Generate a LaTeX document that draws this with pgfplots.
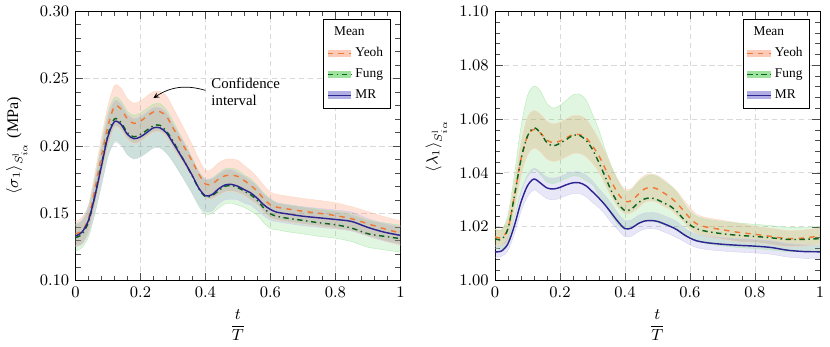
\documentclass[border=0pt]{standalone}
\usepackage{fontspec}
\setmainfont{Liberation Serif}
\usepackage{pgfplots}
\usepackage{pgfplotstable}
\pgfplotsset{compat=1.18}
\usepgfplotslibrary{fillbetween}

\definecolor{yeoh}{RGB}{240,120,50}
\definecolor{fung}{RGB}{10,100,30}
\definecolor{mr}{RGB}{45,35,145}
\definecolor{yeohfill}{RGB}{250,150,110}
\definecolor{fungfill}{RGB}{60,200,60}
\definecolor{mrfill}{RGB}{100,95,200}

\pgfplotsset{
  bandleg/.style={legend image code/.code={
      \fill[draw=none, #1, fill opacity=0.5] (0cm,-0.075cm) rectangle (0.46cm,0.075cm);
      \draw[##1] (0cm,0cm) -- (0.46cm,0cm);}},
  panel/.style={
    width=6.39cm, height=5.30cm, scale only axis,
    xmin=0, xmax=1,
    xtick={0,0.2,0.4,0.6,0.8,1},
    minor tick num=4,
    grid=major,
    major grid style={dash pattern=on 3pt off 2pt, gray!30},
    tick style={black!70},
    tick label style={font=\small},
    label style={font=\small},
    xlabel={$\displaystyle\frac{t}{T}$},
    yticklabel style={/pgf/number format/fixed, /pgf/number format/fixed zerofill, /pgf/number format/precision=2},
    legend style={font=\fontsize{7.5}{8.5}\selectfont, at={(0.97,0.97)}, anchor=north east,
      draw=black, cells={anchor=west}, row sep=1.2pt, inner sep=2pt},
  },
}

% columns: t, mean, lower, upper
\pgfplotstableread{
x m lo hi
0 0.1348 0.1258 0.1438
0.02 0.1370 0.1270 0.1470
0.04 0.1460 0.1360 0.1560
0.06 0.1680 0.1560 0.1800
0.08 0.1925 0.1785 0.2065
0.10 0.2146 0.1996 0.2296
0.12 0.2293 0.2138 0.2448
0.14 0.2274 0.2119 0.2429
0.16 0.2200 0.2050 0.2350
0.18 0.2166 0.2016 0.2316
0.20 0.2183 0.2033 0.2333
0.22 0.2220 0.2070 0.2370
0.24 0.2252 0.2102 0.2402
0.26 0.2254 0.2104 0.2404
0.28 0.2220 0.2070 0.2370
0.30 0.2134 0.1984 0.2284
0.32 0.2053 0.1913 0.2193
0.34 0.1970 0.1840 0.2100
0.36 0.1883 0.1763 0.2003
0.38 0.1790 0.1680 0.1900
0.40 0.1717 0.1617 0.1817
0.42 0.1717 0.1607 0.1827
0.44 0.1753 0.1633 0.1873
0.46 0.1778 0.1658 0.1898
0.48 0.1783 0.1663 0.1903
0.50 0.1773 0.1653 0.1893
0.52 0.1742 0.1632 0.1852
0.54 0.1705 0.1595 0.1815
0.56 0.1663 0.1563 0.1763
0.58 0.1606 0.1506 0.1706
0.60 0.1562 0.1467 0.1657
0.62 0.1545 0.1450 0.1640
0.65 0.1533 0.1438 0.1628
0.70 0.1515 0.1420 0.1610
0.75 0.1500 0.1405 0.1595
0.80 0.1483 0.1388 0.1578
0.85 0.1459 0.1369 0.1549
0.90 0.1422 0.1332 0.1512
0.95 0.1385 0.1295 0.1475
1.00 0.1353 0.1263 0.1443
}\yeohS

\pgfplotstableread{
x m lo hi
0 0.1319 0.1219 0.1419
0.02 0.1345 0.1245 0.1445
0.04 0.1434 0.1324 0.1544
0.06 0.1630 0.1500 0.1760
0.08 0.1864 0.1714 0.2014
0.10 0.2085 0.1925 0.2245
0.12 0.2200 0.2040 0.2360
0.14 0.2175 0.2015 0.2335
0.16 0.2097 0.1937 0.2257
0.18 0.2067 0.1907 0.2227
0.20 0.2085 0.1925 0.2245
0.22 0.2117 0.1957 0.2277
0.24 0.2150 0.1990 0.2310
0.26 0.2153 0.1993 0.2313
0.28 0.2109 0.1949 0.2269
0.30 0.2036 0.1886 0.2186
0.32 0.1950 0.1810 0.2090
0.34 0.1864 0.1724 0.2004
0.36 0.1773 0.1643 0.1903
0.38 0.1680 0.1550 0.1810
0.40 0.1623 0.1493 0.1753
0.42 0.1630 0.1500 0.1760
0.44 0.1667 0.1537 0.1797
0.46 0.1700 0.1570 0.1830
0.48 0.1705 0.1575 0.1835
0.50 0.1690 0.1560 0.1820
0.52 0.1663 0.1543 0.1783
0.54 0.1636 0.1516 0.1756
0.56 0.1594 0.1484 0.1704
0.58 0.1538 0.1428 0.1648
0.60 0.1496 0.1386 0.1606
0.62 0.1478 0.1378 0.1578
0.65 0.1464 0.1364 0.1564
0.70 0.1447 0.1347 0.1547
0.75 0.1429 0.1329 0.1529
0.80 0.1415 0.1315 0.1515
0.85 0.1390 0.1290 0.1490
0.90 0.1348 0.1248 0.1448
0.95 0.1329 0.1229 0.1429
1.00 0.1312 0.1212 0.1412
}\fungS

\pgfplotstableread{
x m lo hi
0 0.1331 0.1251 0.1411
0.02 0.1360 0.1270 0.1450
0.04 0.1447 0.1347 0.1547
0.06 0.1630 0.1510 0.1750
0.08 0.1850 0.1710 0.1990
0.10 0.2070 0.1920 0.2220
0.12 0.2180 0.2025 0.2335
0.14 0.2160 0.2005 0.2315
0.16 0.2085 0.1935 0.2235
0.18 0.2053 0.1903 0.2203
0.20 0.2067 0.1917 0.2217
0.22 0.2100 0.1950 0.2250
0.24 0.2134 0.1984 0.2284
0.26 0.2134 0.1984 0.2284
0.28 0.2097 0.1947 0.2247
0.30 0.2023 0.1883 0.2163
0.32 0.1945 0.1805 0.2085
0.34 0.1864 0.1734 0.1994
0.36 0.1778 0.1648 0.1908
0.38 0.1685 0.1565 0.1805
0.40 0.1630 0.1510 0.1750
0.42 0.1638 0.1518 0.1758
0.44 0.1680 0.1570 0.1790
0.46 0.1710 0.1600 0.1820
0.48 0.1714 0.1604 0.1824
0.50 0.1700 0.1600 0.1800
0.52 0.1675 0.1575 0.1775
0.54 0.1650 0.1560 0.1740
0.56 0.1610 0.1520 0.1700
0.58 0.1562 0.1482 0.1642
0.60 0.1528 0.1448 0.1608
0.62 0.1508 0.1438 0.1578
0.65 0.1496 0.1426 0.1566
0.70 0.1478 0.1408 0.1548
0.75 0.1466 0.1396 0.1536
0.80 0.1454 0.1384 0.1524
0.85 0.1439 0.1369 0.1509
0.90 0.1395 0.1330 0.1460
0.95 0.1360 0.1295 0.1425
1.00 0.1336 0.1271 0.1401
}\mrS

\pgfplotstableread{
x m lo hi
0 1.0162 1.0132 1.0192
0.02 1.0160 1.0130 1.0190
0.04 1.0193 1.0153 1.0233
0.06 1.0315 1.0265 1.0365
0.08 1.0450 1.0390 1.0510
0.10 1.0536 1.0466 1.0606
0.12 1.0561 1.0491 1.0631
0.14 1.0548 1.0478 1.0618
0.16 1.0521 1.0451 1.0591
0.18 1.0512 1.0442 1.0582
0.20 1.0518 1.0448 1.0588
0.22 1.0530 1.0460 1.0600
0.24 1.0542 1.0472 1.0612
0.26 1.0542 1.0472 1.0612
0.28 1.0530 1.0460 1.0600
0.30 1.0500 1.0435 1.0565
0.32 1.0463 1.0403 1.0523
0.34 1.0414 1.0354 1.0474
0.36 1.0364 1.0309 1.0419
0.38 1.0321 1.0271 1.0371
0.40 1.0294 1.0249 1.0339
0.42 1.0297 1.0252 1.0342
0.44 1.0319 1.0269 1.0369
0.46 1.0340 1.0290 1.0390
0.48 1.0346 1.0296 1.0396
0.50 1.0340 1.0290 1.0390
0.52 1.0325 1.0275 1.0375
0.54 1.0309 1.0264 1.0354
0.56 1.0287 1.0242 1.0332
0.58 1.0260 1.0220 1.0300
0.60 1.0232 1.0192 1.0272
0.62 1.0211 1.0176 1.0246
0.65 1.0199 1.0164 1.0234
0.70 1.0189 1.0154 1.0224
0.75 1.0179 1.0144 1.0214
0.80 1.0172 1.0142 1.0202
0.85 1.0164 1.0134 1.0194
0.90 1.0156 1.0126 1.0186
0.95 1.0158 1.0128 1.0188
1.00 1.0166 1.0136 1.0196
}\yeohL

\pgfplotstableread{
x m lo hi
0 1.0156 1.0121 1.0191
0.02 1.0153 1.0118 1.0188
0.04 1.0193 1.0143 1.0243
0.06 1.0315 1.0235 1.0395
0.08 1.0450 1.0330 1.0570
0.10 1.0536 1.0386 1.0686
0.12 1.0567 1.0412 1.0722
0.14 1.0548 1.0393 1.0703
0.16 1.0512 1.0367 1.0657
0.18 1.0500 1.0360 1.0640
0.20 1.0510 1.0370 1.0650
0.22 1.0524 1.0379 1.0669
0.24 1.0539 1.0389 1.0689
0.26 1.0539 1.0386 1.0692
0.28 1.0521 1.0371 1.0671
0.30 1.0487 1.0357 1.0617
0.32 1.0438 1.0318 1.0558
0.34 1.0383 1.0283 1.0483
0.36 1.0328 1.0238 1.0418
0.38 1.0285 1.0205 1.0365
0.40 1.0260 1.0190 1.0330
0.42 1.0266 1.0196 1.0336
0.44 1.0288 1.0213 1.0363
0.46 1.0303 1.0223 1.0383
0.48 1.0307 1.0222 1.0392
0.50 1.0300 1.0215 1.0385
0.52 1.0288 1.0208 1.0368
0.54 1.0276 1.0201 1.0351
0.56 1.0256 1.0186 1.0326
0.58 1.0229 1.0169 1.0289
0.60 1.0207 1.0157 1.0257
0.62 1.0193 1.0148 1.0238
0.65 1.0183 1.0138 1.0228
0.70 1.0174 1.0129 1.0219
0.75 1.0168 1.0123 1.0213
0.80 1.0164 1.0119 1.0209
0.85 1.0159 1.0114 1.0204
0.90 1.0153 1.0108 1.0198
0.95 1.0153 1.0108 1.0198
1.00 1.0156 1.0111 1.0201
}\fungL

\pgfplotstableread{
x m lo hi
0 1.0107 1.0087 1.0127
0.02 1.0110 1.0090 1.0130
0.04 1.0137 1.0112 1.0162
0.06 1.0205 1.0175 1.0235
0.08 1.0291 1.0256 1.0326
0.10 1.0352 1.0312 1.0392
0.12 1.0377 1.0337 1.0417
0.14 1.0362 1.0322 1.0402
0.16 1.0344 1.0304 1.0384
0.18 1.0340 1.0300 1.0380
0.20 1.0346 1.0306 1.0386
0.22 1.0356 1.0316 1.0396
0.24 1.0363 1.0323 1.0403
0.26 1.0363 1.0323 1.0403
0.28 1.0352 1.0312 1.0392
0.30 1.0330 1.0290 1.0370
0.32 1.0306 1.0271 1.0341
0.34 1.0279 1.0244 1.0314
0.36 1.0248 1.0213 1.0283
0.38 1.0217 1.0187 1.0247
0.40 1.0193 1.0163 1.0223
0.42 1.0195 1.0165 1.0225
0.44 1.0211 1.0181 1.0241
0.46 1.0221 1.0191 1.0251
0.48 1.0223 1.0193 1.0253
0.50 1.0220 1.0190 1.0250
0.52 1.0211 1.0181 1.0241
0.54 1.0201 1.0171 1.0231
0.56 1.0189 1.0159 1.0219
0.58 1.0172 1.0147 1.0197
0.60 1.0158 1.0133 1.0183
0.62 1.0148 1.0123 1.0173
0.65 1.0141 1.0116 1.0166
0.70 1.0135 1.0110 1.0160
0.75 1.0131 1.0106 1.0156
0.80 1.0128 1.0103 1.0153
0.85 1.0123 1.0098 1.0148
0.90 1.0113 1.0088 1.0138
0.95 1.0108 1.0083 1.0133
1.00 1.0107 1.0082 1.0132
}\mrL

\begin{document}
\begin{tikzpicture}
% ---- left: principal stress
\begin{axis}[panel,
    ymin=0.10, ymax=0.30,
    ytick={0.10,0.15,0.20,0.25,0.30},
    ylabel={$\langle\sigma_1\rangle_{S^{\mathrm{l}}_{i\alpha}}$ (MPa)},
]
\addlegendimage{empty legend}
\addlegendentry{\hspace{-0.42cm}Mean}
% confidence bands
\addplot[forget plot, smooth, draw=yeoh!30, very thin, name path=yh] table[x=x,y=hi]{\yeohS};
\addplot[forget plot, smooth, draw=yeoh!30, very thin, name path=yl] table[x=x,y=lo]{\yeohS};
\addplot[forget plot, yeohfill, fill opacity=0.28] fill between[of=yh and yl];
\addplot[forget plot, smooth, draw=fungfill!40, very thin, name path=fh] table[x=x,y=hi]{\fungS};
\addplot[forget plot, smooth, draw=fungfill!40, very thin, name path=fl] table[x=x,y=lo]{\fungS};
\addplot[forget plot, fungfill, fill opacity=0.16] fill between[of=fh and fl];
\addplot[forget plot, smooth, draw=mrfill!30, very thin, name path=mh] table[x=x,y=hi]{\mrS};
\addplot[forget plot, smooth, draw=mrfill!30, very thin, name path=ml] table[x=x,y=lo]{\mrS};
\addplot[forget plot, mrfill, fill opacity=0.15] fill between[of=mh and ml];
% means
\addplot[yeoh, thick, dashed, smooth, bandleg=yeohfill] table[x=x,y=m]{\yeohS};
\addlegendentry{Yeoh}
\addplot[fung, thick, dash dot, smooth, bandleg=fungfill] table[x=x,y=m]{\fungS};
\addlegendentry{Fung}
\addplot[mr, thick, smooth, bandleg=mrfill] table[x=x,y=m]{\mrS};
\addlegendentry{MR}
\node[anchor=west, align=left, inner sep=1pt, font=\fontsize{8.3}{9.6}\selectfont] at (axis cs:0.412,0.2400) {Confidence\\interval};
\draw[-stealth, thin] (axis cs:0.40,0.2412) to[bend right=25] (axis cs:0.24,0.2355);
\end{axis}

% ---- right: principal stretch
\begin{axis}[panel, at={(8.25cm,0)},
    ymin=1.00, ymax=1.10,
    ytick={1.00,1.02,1.04,1.06,1.08,1.10},
    ylabel={$\langle\lambda_1\rangle_{S^{\mathrm{l}}_{i\alpha}}$},
]
\addlegendimage{empty legend}
\addlegendentry{\hspace{-0.42cm}Mean}
\addplot[forget plot, smooth, draw=yeoh!30, very thin, name path=yh] table[x=x,y=hi]{\yeohL};
\addplot[forget plot, smooth, draw=yeoh!30, very thin, name path=yl] table[x=x,y=lo]{\yeohL};
\addplot[forget plot, yeohfill, fill opacity=0.28] fill between[of=yh and yl];
\addplot[forget plot, smooth, draw=fungfill!40, very thin, name path=fh] table[x=x,y=hi]{\fungL};
\addplot[forget plot, smooth, draw=fungfill!40, very thin, name path=fl] table[x=x,y=lo]{\fungL};
\addplot[forget plot, fungfill, fill opacity=0.16] fill between[of=fh and fl];
\addplot[forget plot, smooth, draw=mrfill!30, very thin, name path=mh] table[x=x,y=hi]{\mrL};
\addplot[forget plot, smooth, draw=mrfill!30, very thin, name path=ml] table[x=x,y=lo]{\mrL};
\addplot[forget plot, mrfill, fill opacity=0.15] fill between[of=mh and ml];
\addplot[yeoh, thick, dashed, smooth, bandleg=yeohfill] table[x=x,y=m]{\yeohL};
\addlegendentry{Yeoh}
\addplot[fung, thick, dash dot, smooth, bandleg=fungfill] table[x=x,y=m]{\fungL};
\addlegendentry{Fung}
\addplot[mr, thick, smooth, bandleg=mrfill] table[x=x,y=m]{\mrL};
\addlegendentry{MR}
\end{axis}
\end{tikzpicture}
\end{document}
